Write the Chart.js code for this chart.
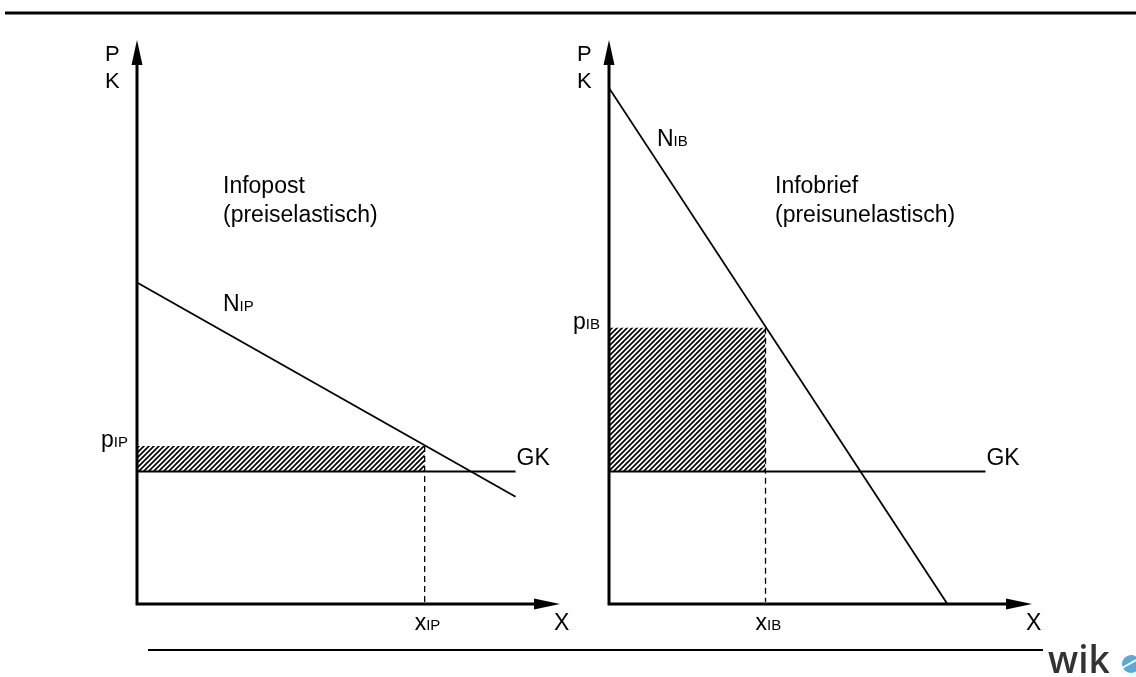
<!DOCTYPE html>
<html>
<head>
<meta charset="utf-8">
<script src="https://cdn.jsdelivr.net/npm/chart.js@4.4.1/dist/chart.umd.min.js"></script>
<style>
  html, body { margin: 0; padding: 0; background: #fff; }
  #wrap { position: relative; width: 1136px; height: 677px; }
  #wrap canvas { position: absolute; left: 0; top: 0; }
</style>
</head>
<body>
<div id="wrap">
  <canvas id="left" width="1136" height="677"></canvas>
  <canvas id="right" width="1136" height="677"></canvas>
</div>
<script>
// Infopost (preiselastisch) - Nachfrage N_IP
const ipDemandX = [0, 8.95];
const ipDemandP = [5.7, 1.9];
const ipPrice = 2.8;
const ipQty = 6.8;
const ipGkEnd = 8.95;

// Infobrief (preisunelastisch) - Nachfrage N_IB
const ibDemandX = [0, 8.0];
const ibDemandP = [9.15, 0];
const ibPrice = 4.9;
const ibQty = 3.7;
const ibGkEnd = 8.9;

// Grenzkosten, gleich in beiden Märkten
const gk = 2.35;

const FONT = '"Liberation Sans", Arial, sans-serif';

// Schraffur für die Fläche
function hatch() {
  const c = document.createElement('canvas');
  c.width = 5; c.height = 5;
  const g = c.getContext('2d');
  g.strokeStyle = '#000';
  g.lineWidth = 1.7;
  g.beginPath();
  g.moveTo(-1, 6); g.lineTo(6, -1);
  g.moveTo(-1, 1); g.lineTo(1, -1);
  g.moveTo(4, 6); g.lineTo(6, 4);
  g.stroke();
  return g.createPattern(c, 'repeat');
}

function subText(ctx, main, sub, x, base, align) {
  ctx.font = '23px ' + FONT;
  const w1 = ctx.measureText(main).width;
  ctx.font = '15px ' + FONT;
  const w2 = ctx.measureText(sub).width;
  let sx = align === 'right' ? x - w1 - w2 : x;
  ctx.textAlign = 'left';
  ctx.font = '23px ' + FONT;
  ctx.fillText(main, sx, base);
  ctx.font = '15px ' + FONT;
  ctx.fillText(sub, sx + w1, base);
}

const panelDeco = {
  id: 'panelDeco',
  afterDatasetsDraw(chart, args, o) {
    const ctx = chart.ctx;
    const x = chart.scales.x, y = chart.scales.y;
    const x0 = x.getPixelForValue(0), y0 = y.getPixelForValue(0);
    const xt = x.getPixelForValue(x.max), yt = y.getPixelForValue(y.max);
    ctx.save();
    ctx.strokeStyle = '#000';
    ctx.fillStyle = '#000';

    // Achsen mit Pfeilen
    ctx.lineWidth = 3;
    ctx.beginPath();
    ctx.moveTo(x0, y0 + 1.5); ctx.lineTo(x0, yt + 20);
    ctx.moveTo(x0 - 1.5, y0); ctx.lineTo(xt - 20, y0);
    ctx.stroke();
    ctx.beginPath();
    ctx.moveTo(x0, yt); ctx.lineTo(x0 - 5.5, yt + 25); ctx.lineTo(x0 + 5.5, yt + 25);
    ctx.closePath(); ctx.fill();
    ctx.beginPath();
    ctx.moveTo(xt, y0); ctx.lineTo(xt - 26, y0 - 5.5); ctx.lineTo(xt - 26, y0 + 5.5);
    ctx.closePath(); ctx.fill();

    // gestrichelte Linie zur Menge
    const qx = x.getPixelForValue(o.qty);
    const py = y.getPixelForValue(o.price);
    ctx.lineWidth = 1.3;
    ctx.setLineDash([6, 4]);
    ctx.beginPath();
    ctx.moveTo(qx, py); ctx.lineTo(qx, y0 - 2);
    ctx.stroke();
    ctx.setLineDash([]);

    // Beschriftung
    ctx.textBaseline = 'alphabetic';
    ctx.font = '22px ' + FONT;
    ctx.fillText('P', x0 - 32, yt + 21);
    ctx.fillText('K', x0 - 32, yt + 48);
    ctx.font = '23px ' + FONT;
    ctx.fillText(o.title[0], o.titlePos[0], o.titlePos[1]);
    ctx.fillText(o.title[1], o.titlePos[0], o.titlePos[1] + 29);
    ctx.fillText('X', xt - 6, y0 + 26);
    ctx.fillText('GK', x.getPixelForValue(o.gkEnd) + 1, y.getPixelForValue(gk) - 6);
    subText(ctx, 'N', o.sub, o.nPos[0], o.nPos[1], 'left');
    subText(ctx, 'p', o.sub, x0 - 9, py + 1, 'right');
    subText(ctx, 'x', o.sub, qx - 10, y0 + 26, 'left');

    if (o.frame) {
      // Rahmenlinien und Logo
      ctx.lineWidth = 3;
      ctx.beginPath(); ctx.moveTo(5, 13); ctx.lineTo(1136, 13); ctx.stroke();
      ctx.lineWidth = 2;
      ctx.beginPath(); ctx.moveTo(148, 650); ctx.lineTo(1043, 650); ctx.stroke();
      ctx.fillStyle = '#333';
      ctx.font = '600 37px "Open Sans", "DejaVu Sans", sans-serif';
      ctx.fillText('wik', 1048, 673);
      ctx.fillStyle = '#5aa9d6';
      ctx.beginPath(); ctx.arc(1131, 664, 9, 0, Math.PI * 2); ctx.fill();
      ctx.strokeStyle = '#fff'; ctx.lineWidth = 2;
      ctx.beginPath(); ctx.moveTo(1122, 668); ctx.lineTo(1136, 660); ctx.stroke();
    }
    ctx.restore();
  }
};

function panel(id, pad, d) {
  const pattern = hatch();
  return new Chart(document.getElementById(id), {
    type: 'scatter',
    data: {
      datasets: [
        {
          data: [{ x: 0, y: d.price }, { x: d.qty, y: d.price }],
          showLine: true, borderWidth: 0, pointRadius: 0,
          backgroundColor: pattern, fill: { value: gk }, order: 5
        },
        {
          data: d.demandX.map((v, i) => ({ x: v, y: d.demandP[i] })),
          showLine: true, borderColor: '#000', borderWidth: 1.8, pointRadius: 0, order: 0
        },
        {
          data: [{ x: 0, y: gk }, { x: d.gkEnd, y: gk }],
          showLine: true, borderColor: '#000', borderWidth: 2, pointRadius: 0, order: 0
        }
      ]
    },
    options: {
      responsive: false,
      animation: false,
      events: [],
      layout: { padding: pad },
      scales: {
        x: { type: 'linear', min: 0, max: 10, display: false },
        y: { type: 'linear', min: 0, max: 10, display: false }
      },
      plugins: {
        legend: { display: false },
        tooltip: { enabled: false },
        panelDeco: d.deco
      }
    },
    plugins: [panelDeco]
  });
}

panel('left', { left: 137, right: 576, top: 40, bottom: 73 }, {
  demandX: ipDemandX, demandP: ipDemandP, price: ipPrice, qty: ipQty, gkEnd: ipGkEnd,
  deco: { qty: ipQty, price: ipPrice, gkEnd: ipGkEnd, sub: 'IP',
    title: ['Infopost', '(preiselastisch)'], titlePos: [223, 193], nPos: [223, 311], frame: true }
});

panel('right', { left: 609, right: 104, top: 40, bottom: 73 }, {
  demandX: ibDemandX, demandP: ibDemandP, price: ibPrice, qty: ibQty, gkEnd: ibGkEnd,
  deco: { qty: ibQty, price: ibPrice, gkEnd: ibGkEnd, sub: 'IB',
    title: ['Infobrief', '(preisunelastisch)'], titlePos: [775, 193], nPos: [657, 146], frame: false }
});
</script>
</body>
</html>
